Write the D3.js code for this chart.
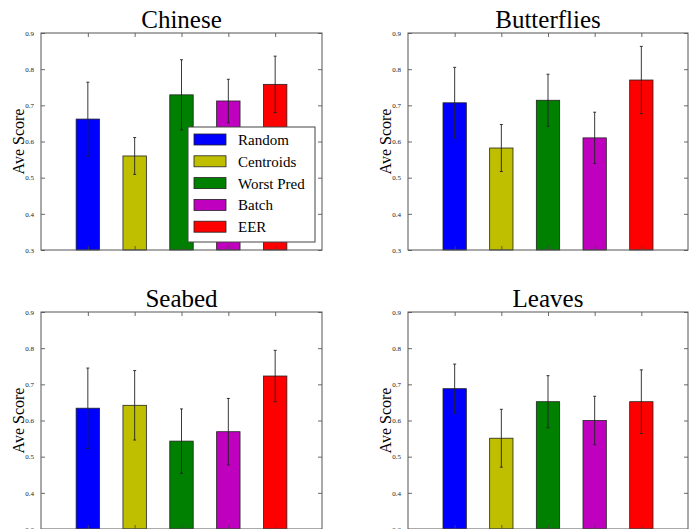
<!DOCTYPE html>
<html>
<head>
<meta charset="utf-8">
<script src="https://cdn.jsdelivr.net/npm/d3@7"></script>
<style>
  body { margin: 0; background: #fff; }
  svg { display: block; }
  text { font-family: "Liberation Serif", "Times New Roman", Times, "DejaVu Serif", serif; }
</style>
</head>
<body>
<svg id="chart" width="695" height="529"></svg>
<script>
// Four bar panels with error bars: average score per query method and dataset.

const methods = ["Random", "Centroids", "Worst Pred", "Batch", "EER"];
const methodColors = ["#0000ff", "#bfbf00", "#008000", "#bf00bf", "#ff0000"];

const chineseMeans = [0.662, 0.560, 0.729, 0.712, 0.758];
const chineseErrs  = [0.102, 0.051, 0.097, 0.060, 0.078];

const butterfliesMeans = [0.707, 0.582, 0.714, 0.610, 0.770];
const butterfliesErrs  = [0.098, 0.065, 0.072, 0.071, 0.093];

const seabedMeans = [0.634, 0.642, 0.543, 0.569, 0.723];
const seabedErrs  = [0.111, 0.096, 0.089, 0.092, 0.071];

const leavesMeans = [0.688, 0.551, 0.652, 0.600, 0.652];
const leavesErrs  = [0.068, 0.080, 0.072, 0.067, 0.088];

const yTicks = [0.3, 0.4, 0.5, 0.6, 0.7, 0.8, 0.9];

const panels = [
  { title: "Chinese",     means: chineseMeans,     errs: chineseErrs,     left: 41,  top: 33,  width: 281, legend: true },
  { title: "Butterflies", means: butterfliesMeans, errs: butterfliesErrs, left: 408, top: 33,  width: 280, legend: false },
  { title: "Seabed",      means: seabedMeans,      errs: seabedErrs,      left: 41,  top: 312, width: 281, legend: false },
  { title: "Leaves",      means: leavesMeans,      errs: leavesErrs,      left: 408, top: 312, width: 280, legend: false }
];

const svg = d3.select("#chart");
const innerHeight = 217;

panels.forEach(p => drawPanel(p));

function drawPanel({ title, means, errs, left, top, width, legend }) {
  const g = svg.append("g").attr("transform", `translate(${left},${top})`);

  const x = d3.scaleLinear().domain([-1, 5]).range([0, width]);
  const y = d3.scaleLinear().domain([0.3, 0.9]).range([innerHeight, 0]);
  const barW = x(0.5) - x(0);

  // bars
  g.selectAll("rect.bar")
    .data(means)
    .join("rect")
    .attr("class", "bar")
    .attr("x", (d, i) => x(i) - barW / 2)
    .attr("y", d => y(d))
    .attr("width", barW)
    .attr("height", d => innerHeight - y(d))
    .attr("fill", (d, i) => methodColors[i])
    .attr("stroke", "#222")
    .attr("stroke-width", 0.8);

  // error bars
  const eb = g.selectAll("g.err")
    .data(means.map((m, i) => ({ m, e: errs[i], i })))
    .join("g")
    .attr("class", "err");

  eb.append("line")
    .attr("x1", d => x(d.i)).attr("x2", d => x(d.i))
    .attr("y1", d => y(d.m - d.e)).attr("y2", d => y(d.m + d.e))
    .attr("stroke", "#222").attr("stroke-width", 0.9);

  [-1, 1].forEach(s => {
    eb.append("line")
      .attr("x1", d => x(d.i) - 1.5).attr("x2", d => x(d.i) + 1.5)
      .attr("y1", d => y(d.m + s * d.e)).attr("y2", d => y(d.m + s * d.e))
      .attr("stroke", "#222").attr("stroke-width", 0.9);
  });

  // axes: ticks inside on all four sides (classic matplotlib look)
  const tickStyle = sel => {
    sel.select(".domain").remove();
    sel.selectAll(".tick line").attr("stroke", "#444").attr("stroke-width", 0.8);
  };
  const noLabels = sel => sel.selectAll(".tick text").remove();

  g.append("g")
    .call(d3.axisLeft(y).tickValues(yTicks).tickFormat(d3.format(".1f")).tickSizeInner(-4).tickPadding(7))
    .call(tickStyle)
    .call(a => a.selectAll(".tick text")
      .attr("font-size", 7).attr("fill", "#222"));

  g.append("g").attr("transform", `translate(${width},0)`)
    .call(d3.axisRight(y).tickValues(yTicks).tickSizeInner(-4))
    .call(tickStyle).call(noLabels);

  g.append("g").attr("transform", `translate(0,${innerHeight})`)
    .call(d3.axisBottom(x).tickValues(d3.range(5)).tickSizeInner(-4))
    .call(tickStyle).call(noLabels);

  g.append("g")
    .call(d3.axisTop(x).tickValues(d3.range(5)).tickSizeInner(-4))
    .call(tickStyle).call(noLabels);

  // d3 axes set a sans font on their groups; clear it so the serif CSS applies
  g.selectAll("g").attr("font-family", null).attr("font-size", null);

  // frame
  g.append("rect")
    .attr("x", 0).attr("y", 0)
    .attr("width", width).attr("height", innerHeight)
    .attr("fill", "none").attr("stroke", "#555").attr("stroke-width", 1);

  // title
  g.append("text")
    .attr("x", width / 2).attr("y", -5)
    .attr("text-anchor", "middle")
    .attr("font-size", 25)
    .text(title);

  // y label
  g.append("text")
    .attr("transform", `translate(-17,${innerHeight / 2}) rotate(-90)`)
    .attr("text-anchor", "middle")
    .attr("font-size", 16)
    .text("Ave Score");

  if (legend) drawLegend(g);
}

function drawLegend(g) {
  const lg = g.append("g").attr("transform", "translate(147,94)");

  lg.append("rect")
    .attr("width", 127).attr("height", 115)
    .attr("fill", "#fff").attr("stroke", "#444").attr("stroke-width", 1);

  const item = lg.selectAll("g.item")
    .data(methods)
    .join("g")
    .attr("class", "item")
    .attr("transform", (d, i) => `translate(6,${7 + i * 21.8})`);

  item.append("rect")
    .attr("width", 32).attr("height", 11)
    .attr("fill", (d, i) => methodColors[i])
    .attr("stroke", "#222").attr("stroke-width", 0.8);

  item.append("text")
    .attr("x", 44).attr("y", 11)
    .attr("font-size", 15)
    .text(d => d);
}
</script>
</body>
</html>
